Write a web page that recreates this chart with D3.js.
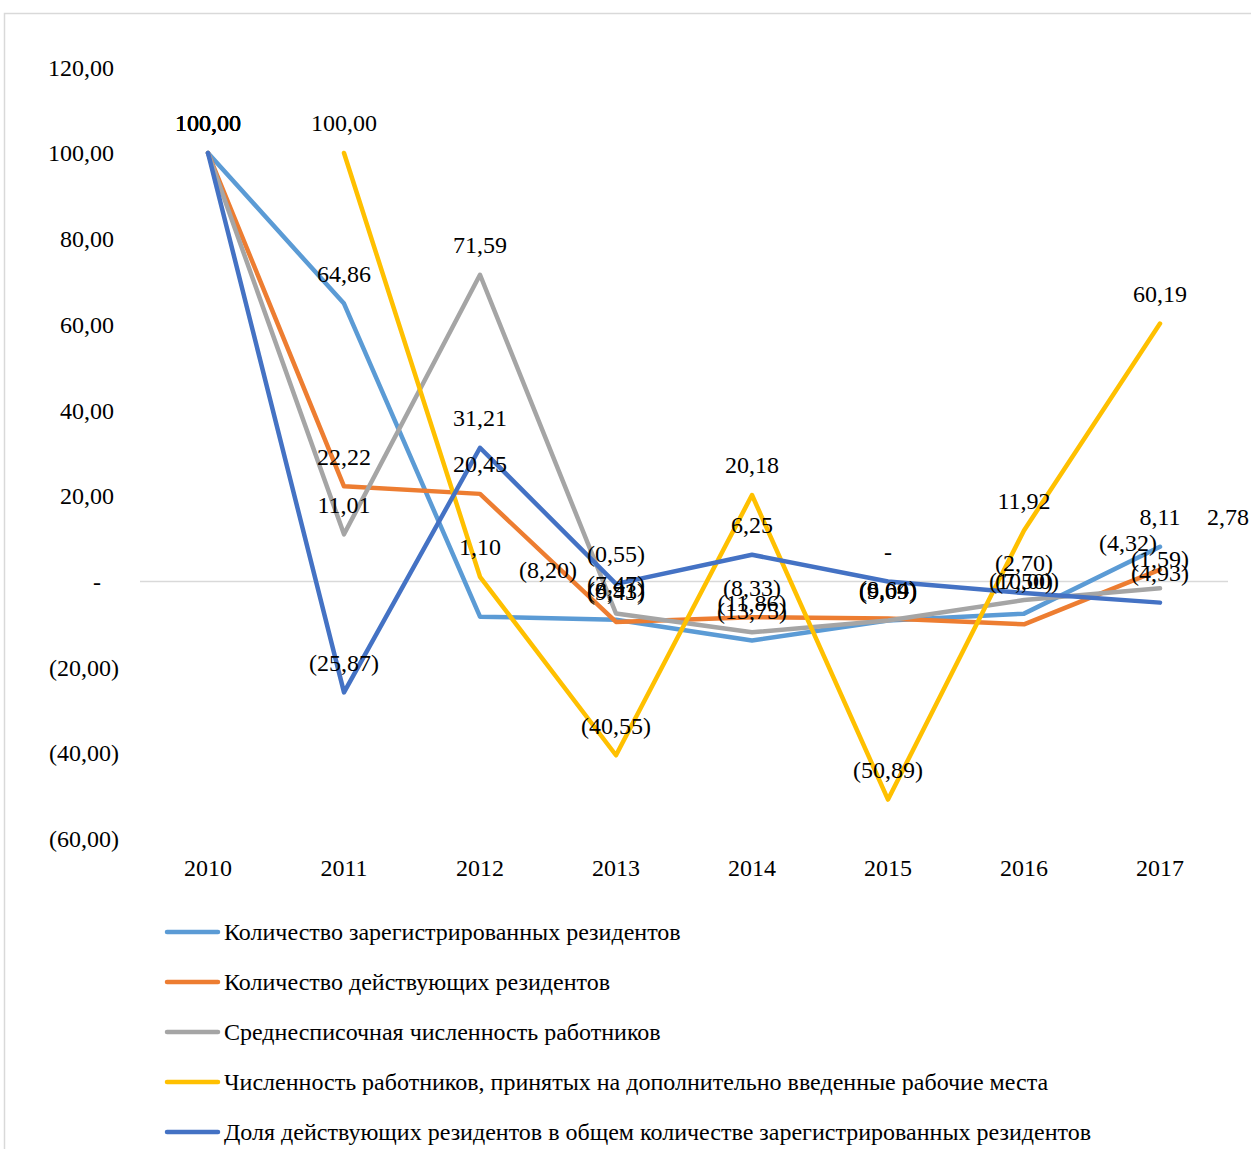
<!DOCTYPE html>
<html>
<head>
<meta charset="utf-8">
<script src="https://cdn.jsdelivr.net/npm/d3@7"></script>
<style>
    body { margin: 0; background: #fff; }
    svg { display: block; font-family: "Liberation Serif", "Times New Roman", serif; }
</style>
</head>
<body>
<div id="chart"></div>
<script>
// data
const years = ['2010', '2011', '2012', '2013', '2014', '2015', '2016', '2017'];
const registered = [100, 64.86, -8.20, -8.91, -13.75, -9.09, -7.50, 8.11];
const operating = [100, 22.22, 20.45, -9.43, -8.33, -8.64, -10.00, 2.78];
const avgStaff = [100, 11.01, 71.59, -7.47, -11.86, -9.09, -4.32, -1.59];
const newJobs = [null, 100, 1.10, -40.55, 20.18, -50.89, 11.92, 60.19];
const shareOperating = [100, -25.87, 31.21, -0.55, 6.25, 0, -2.70, -4.93];
const yTicks = [-60, -40, -20, 0, 20, 40, 60, 80, 100, 120];

const series = [
    {name: 'Количество зарегистрированных резидентов', values: registered, color: '#5B9BD5'},
    {name: 'Количество действующих резидентов', values: operating, color: '#ED7D31'},
    {name: 'Среднесписочная численность работников', values: avgStaff, color: '#A5A5A5'},
    {name: 'Численность работников, принятых на дополнительно введенные рабочие места', values: newJobs, color: '#FFC000'},
    {name: 'Доля действующих резидентов в общем количестве зарегистрированных резидентов', values: shareOperating, color: '#4472C4'}
];

// labels that were dragged by hand in the original (series index - year index)
const labelMoves = {
    '0-2': {dx: 68, dy: -47},
    '2-6': {dx: 104, dy: -57},
    '1-7': {dx: 68, dy: -53},
    '1-6': {dx: 0, dy: -44},
    '0-6': {dx: 0, dy: -33}
};

const width = 1251;
const height = 1149;
const plot = {left: 140, right: 1228, top: 67.3, bottom: 838.6};
const fontSize = 24;

// excel accounting style: 12,50 / (12,50) / -
const fmt = v => {
    if (v === 0) return '-';
    const s = Math.abs(v).toFixed(2).replace('.', ',');
    return v < 0 ? '(' + s + ')' : s;
};

const svg = d3.select('#chart').append('svg')
    .attr('width', width)
    .attr('height', height);

svg.append('rect')
    .attr('x', 4.5)
    .attr('y', 13.5)
    .attr('width', width + 10)
    .attr('height', height + 10)
    .attr('fill', '#fff')
    .attr('stroke', '#d9d9d9')
    .attr('stroke-width', 1.5);

const x = d3.scaleBand()
    .domain(years)
    .range([plot.left, plot.right]);

const y = d3.scaleLinear()
    .domain([-60, 120])
    .range([plot.bottom, plot.top]);

const cx = yr => x(yr) + x.bandwidth() / 2;

// y axis labels; positives keep room for the missing ")" like excel does
svg.append('g')
    .selectAll('text')
    .data(yTicks)
    .join('text')
    .attr('x', d => d < 0 ? 119 : (d === 0 ? 101 : 114))
    .attr('y', d => y(d))
    .attr('dy', '0.35em')
    .attr('text-anchor', 'end')
    .attr('font-size', fontSize)
    .attr('fill', '#000')
    .text(fmt);

// zero line
svg.append('line')
    .attr('x1', plot.left)
    .attr('x2', plot.right)
    .attr('y1', y(0))
    .attr('y2', y(0))
    .attr('stroke', '#d9d9d9')
    .attr('stroke-width', 1.5);

// x axis labels
svg.append('g')
    .selectAll('text')
    .data(years)
    .join('text')
    .attr('x', d => cx(d))
    .attr('y', 868)
    .attr('dy', '0.35em')
    .attr('text-anchor', 'middle')
    .attr('font-size', fontSize)
    .text(d => d);

const line = d3.line()
    .defined(d => d.v !== null)
    .x(d => cx(d.year))
    .y(d => y(d.v));

series.forEach(s => {
    s.points = s.values.map((v, i) => ({year: years[i], v: v, i: i}));
    svg.append('path')
        .datum(s.points)
        .attr('fill', 'none')
        .attr('stroke', s.color)
        .attr('stroke-width', 4.5)
        .attr('stroke-linejoin', 'round')
        .attr('stroke-linecap', 'round')
        .attr('d', line);
});

// data labels, above each point
series.forEach((s, si) => {
    svg.append('g')
        .selectAll('text')
        .data(s.points.filter(d => d.v !== null))
        .join('text')
        .attr('x', d => cx(d.year) + ((labelMoves[si + '-' + d.i] || {}).dx || 0))
        .attr('y', d => y(d.v) + ((labelMoves[si + '-' + d.i] || {dy: -30}).dy))
        .attr('dy', '0.35em')
        .attr('text-anchor', 'middle')
        .attr('font-size', fontSize)
        .attr('fill', '#000')
        .text(d => fmt(d.v));
});

// legend
const legend = svg.append('g')
    .selectAll('g')
    .data(series)
    .join('g')
    .attr('transform', (d, i) => 'translate(0,' + (932 + i * 50) + ')');

legend.append('line')
    .attr('x1', 167)
    .attr('x2', 218)
    .attr('stroke', d => d.color)
    .attr('stroke-width', 4.5)
    .attr('stroke-linecap', 'round');

legend.append('text')
    .attr('x', 224)
    .attr('dy', '0.35em')
    .attr('font-size', fontSize)
    .text(d => d.name);
</script>
</body>
</html>
